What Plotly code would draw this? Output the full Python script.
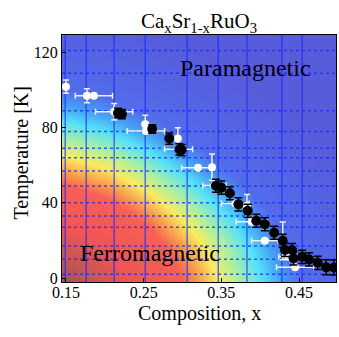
import plotly.graph_objects as go

# ---------------- data ----------------
# white points (x, T, x-error, T-error)
WX = [0.150, 0.177, 0.186, 0.212, 0.252, 0.253, 0.294, 0.295, 0.320, 0.338,
      0.341, 0.368, 0.383, 0.389, 0.406, 0.429, 0.436, 0.445]
WT = [101.8, 97.0, 97.0, 88.5, 81.8, 78.2, 74.3, 68.5, 58.7, 59.0,
      49.2, 39.7, 38.5, 30.0, 19.8, 19.8, 11.3, 5.7]
WXERR = [0, 0, 0.024, 0.024, 0, 0.024, 0, 0.018, 0.021, 0,
         0.015, 0.018, 0, 0.020, 0.017, 0, 0.012, 0.024]
WTERR = [3.5, 3.7, 0, 4.4, 4.8, 0, 5.7, 0, 0, 7.0,
         0, 0, 6.0, 0, 0, 10.0, 0, 0]

# black points (x, T, T-error)
BX = [0.217, 0.222, 0.261, 0.283, 0.296, 0.299, 0.343, 0.350, 0.361, 0.372,
      0.384, 0.395, 0.406, 0.418, 0.429, 0.432, 0.441, 0.443, 0.454, 0.463,
      0.474, 0.485, 0.495]
BT = [87.8, 87.2, 79.3, 74.2, 68.4, 68.1, 49.1, 48.1, 45.1, 39.2,
      35.8, 30.5, 28.6, 24.1, 19.8, 14.9, 14.9, 10.5, 11.3, 9.9,
      8.1, 5.7, 5.6]
BTERR = [2.5, 2.5, 2.3, 3.0, 3.0, 3.0, 3.5, 3.5, 3.5, 3.5,
         3.5, 3.5, 3.5, 3.5, 3.5, 3.5, 3.5, 3.5, 3.5, 3.5,
         3.5, 4.0, 4.0]

# background colour field (level on a coarse grid)
BG_X = [0.150, 0.204, 0.258, 0.312, 0.366, 0.420, 0.474, 0.528]
BG_T = [0, 15.9, 31.8, 47.6, 63.5, 79.4, 95.3, 111.2, 127.1]
BG_Z = [
    [0.000, 0.200, 0.400, 0.600, 0.800, 1.000, 1.200, 1.400],
    [0.176, 0.298, 0.475, 0.662, 0.855, 1.049, 1.245, 1.442],
    [0.353, 0.447, 0.598, 0.769, 0.950, 1.136, 1.325, 1.516],
    [0.529, 0.608, 0.741, 0.897, 1.066, 1.243, 1.425, 1.610],
    [0.706, 0.775, 0.894, 1.038, 1.197, 1.364, 1.539, 1.717],
    [0.882, 0.945, 1.054, 1.188, 1.337, 1.496, 1.663, 1.835],
    [1.059, 1.115, 1.217, 1.342, 1.483, 1.634, 1.795, 1.961],
    [1.235, 1.288, 1.383, 1.500, 1.634, 1.779, 1.934, 2.094],
    [1.412, 1.462, 1.551, 1.662, 1.790, 1.929, 2.077, 2.232],
]

# background grid lines
VLINES = [0.149, 0.176, 0.212, 0.252, 0.306, 0.346, 0.383, 0.428, 0.454]
HLINES = [2, 10, 17, 27, 33, 40, 49, 57, 64, 69, 78, 89, 109, 121]

X_TICKS = [0.15, 0.25, 0.35, 0.45]
X_TICKTEXT = ["0.15", "0.25", "0.35", "0.45"]
Y_TICKS = [0, 40, 80, 120]

X_RANGE = [0.1449, 0.4976]
Y_RANGE = [-2.1, 129.3]

FONT = "Liberation Serif"

COLORSCALE = [
    [0.0, "rgb(165,85,85)"],
    [0.094, "rgb(205,85,85)"],
    [0.1875, "rgb(240,85,85)"],
    [0.344, "rgb(248,95,85)"],
    [0.3875, "rgb(250,150,75)"],
    [0.45, "rgb(250,235,95)"],
    [0.5125, "rgb(170,240,160)"],
    [0.581, "rgb(85,225,250)"],
    [0.6375, "rgb(70,160,245)"],
    [0.70, "rgb(82,108,235)"],
    [1.0, "rgb(88,92,218)"],
]

fig = go.Figure()

fig.add_trace(go.Heatmap(
    x=BG_X, y=BG_T, z=BG_Z, zsmooth="best", colorscale=COLORSCALE,
    zmin=0, zmax=1.6, showscale=False, hoverinfo="skip"))

vx, vy = [], []
for g in VLINES:
    vx += [g, g, None]
    vy += [Y_RANGE[0], Y_RANGE[1], None]
fig.add_trace(go.Scatter(x=vx, y=vy, mode="lines", hoverinfo="skip",
                         line=dict(color="rgba(20,40,255,0.75)", width=1.3)))

hx, hy = [], []
for g in HLINES:
    hx += [X_RANGE[0], X_RANGE[1], None]
    hy += [g, g, None]
fig.add_trace(go.Scatter(x=hx, y=hy, mode="lines", hoverinfo="skip",
                         line=dict(color="rgba(20,40,255,0.75)", width=1.5, dash="dot")))

fig.add_trace(go.Scatter(
    x=WX, y=WT, mode="markers",
    marker=dict(color="white", size=8),
    error_x=dict(type="data", array=WXERR, visible=True, color="rgb(240,240,240)",
                 thickness=1.5, width=3),
    error_y=dict(type="data", array=WTERR, visible=True, color="rgb(240,240,240)",
                 thickness=1.5, width=3)))

fig.add_trace(go.Scatter(
    x=BX, y=BT, mode="markers",
    marker=dict(color="black", size=10),
    error_y=dict(type="data", array=BTERR, visible=True, color="black",
                 thickness=1.5, width=4)))

fig.update_layout(
    width=339, height=337,
    margin=dict(l=62, r=3, t=35, b=55),
    paper_bgcolor="white", plot_bgcolor="rgb(88,92,218)",
    showlegend=False,
    font=dict(family=FONT, color="black"),
    title=dict(text="Ca<sub>x</sub>Sr<sub>1-x</sub>RuO<sub>3</sub>",
               x=0.5, xanchor="center", xref="paper",
               y=1 - 21 / 337, yref="container", yanchor="middle",
               font=dict(family=FONT, size=21, color="black")),
    xaxis=dict(range=X_RANGE, tickvals=X_TICKS, ticktext=X_TICKTEXT,
               ticks="inside", ticklen=4, tickcolor="black",
               ticklabelstandoff=-4,
               showgrid=False, zeroline=False,
               showline=True, linecolor="black", linewidth=1, mirror=True,
               tickfont=dict(family=FONT, size=16, color="black")),
    yaxis=dict(range=Y_RANGE, tickvals=Y_TICKS,
               ticks="inside", ticklen=4, tickcolor="black",
               showgrid=False, zeroline=False,
               showline=True, linecolor="black", linewidth=1, mirror=True,
               tickfont=dict(family=FONT, size=16, color="black")),
    annotations=[
        dict(text="Composition, x", xref="paper", yref="paper", x=0.5, y=-0.126,
             xanchor="center", yanchor="middle", showarrow=False,
             font=dict(family=FONT, size=20, color="black")),
        dict(text="Temperature [K]", xref="paper", yref="paper", x=-0.146, y=0.524,
             xanchor="center", yanchor="middle", textangle=-90, showarrow=False,
             font=dict(family=FONT, size=20, color="black")),
        dict(text="Paramagnetic", xref="x", yref="y", x=0.381, y=111.7,
             xanchor="center", yanchor="middle", showarrow=False,
             font=dict(family=FONT, size=24, color="black")),
        dict(text="Ferromagnetic", xref="x", yref="y", x=0.258, y=13.3,
             xanchor="center", yanchor="middle", showarrow=False,
             font=dict(family=FONT, size=24, color="black")),
    ],
)

fig.write_html("out.html")
